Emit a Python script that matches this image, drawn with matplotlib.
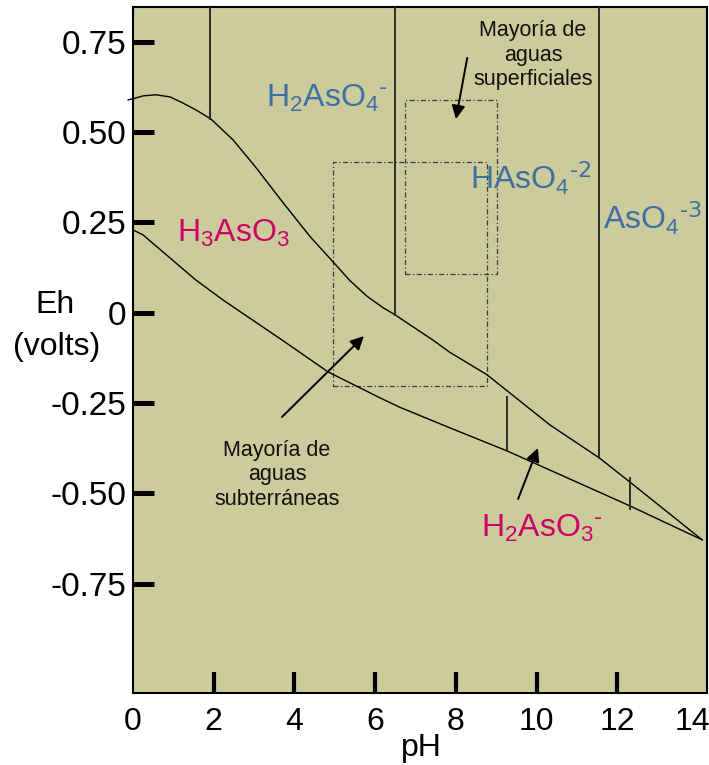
import matplotlib
matplotlib.use("Agg")
import matplotlib.pyplot as plt
from matplotlib.patches import Rectangle
from matplotlib.transforms import ScaledTranslation

plt.rcParams['font.family'] = ['Liberation Sans', 'DejaVu Sans']
plt.rcParams['mathtext.default'] = 'regular'

# ---- data ----
upper_ph = [-0.12, 0.0, 0.25, 0.57, 0.92, 1.24, 1.56, 1.93, 2.48, 3.05, 3.72, 4.39, 4.96, 5.38, 5.80, 6.19, 6.49, 7.43, 7.85, 8.77, 10.33, 11.55, 12.31, 14.10]
upper_eh = [0.589, 0.592, 0.600, 0.603, 0.597, 0.580, 0.561, 0.536, 0.478, 0.401, 0.304, 0.210, 0.140, 0.088, 0.045, 0.014, -0.006, -0.076, -0.110, -0.172, -0.311, -0.402, -0.469, -0.629]

lower_ph = [0.0, 0.25, 1.56, 2.23, 3.72, 4.83, 6.12, 6.61, 7.85, 9.27, 12.31, 14.10]
lower_eh = [0.229, 0.215, 0.090, 0.035, -0.078, -0.164, -0.236, -0.262, -0.319, -0.383, -0.535, -0.629]

# vertical boundaries: x, bottom, top (None = top of frame)
vert_x = [1.91, 6.49, 11.55, 9.27, 12.31]
vert_bottom = [0.536, -0.006, -0.402, -0.383, -0.545]
vert_top = [None, None, None, -0.233, -0.458]

# dash-dot boxes: x0, x1, y0, y1
box_x0 = [4.95, 6.74]
box_x1 = [8.77, 9.02]
box_y0 = [-0.203, 0.107]
box_y1 = [0.417, 0.589]

species_labels = [r'$H_2AsO_4{}^{\text{-}}$', r'$HAsO_4{}^{\text{-2}}$', r'$AsO_4{}^{\text{-3}}$',
                  r'$H_3AsO_3$', r'$H_2AsO_3{}^{\text{-}}$']
species_x = [3.30, 8.35, 11.65, 1.09, 8.62]
species_y = [0.569, 0.340, 0.229, 0.196, -0.621]
species_color = ['#3d6ea6', '#3d6ea6', '#3d6ea6', '#cc0066', '#cc0066']

note_texts = ['Mayoría de\naguas\nsuperficiales', 'Mayoría de\naguas\nsubterráneas']
note_xy = [(9.91, 0.713), (3.57, -0.449)]
arrow_tail = [(8.28, 0.705), (3.69, -0.289), (9.54, -0.516)]
arrow_head = [(8.00, 0.536), (5.72, -0.065), (10.03, -0.375)]

xticks = [0, 2, 4, 6, 8, 10, 12, 14]
yticks = [0.75, 0.50, 0.25, 0.0, -0.25, -0.50, -0.75]
ytick_labels = ['0.75', '0.50', '0.25', '0', '-0.25', '-0.50', '-0.75']

XMAX = 14.22
YMIN, YMAX = -1.053, 0.846

# ---- figure ----
W, H = 709, 765
fig = plt.figure(figsize=(W / 100, H / 100), dpi=100)
ax = fig.add_axes([133 / W, 72 / H, (707 - 133) / W, (693 - 7) / H])
ax.set_facecolor('#cbcb9b')
ax.set_xlim(0, XMAX)
ax.set_ylim(YMIN, YMAX)

ax.plot(upper_ph, upper_eh, color='black', lw=1.0, clip_on=False, zorder=3)
ax.plot(lower_ph, lower_eh, color='black', lw=1.0, zorder=3)

for x, b, t in zip(vert_x, vert_bottom, vert_top):
    ax.plot([x, x], [b, YMAX if t is None else t], color='#2b2b2b', lw=1.4, zorder=3)

for x0, x1, y0, y1 in zip(box_x0, box_x1, box_y0, box_y1):
    ax.add_patch(Rectangle((x0, y0), x1 - x0, y1 - y0, fill=False,
                           edgecolor='#3a3a3a', lw=0.9, linestyle=(0, (4, 2, 1, 2)), zorder=2))

for lab, x, y, c in zip(species_labels, species_x, species_y, species_color):
    ax.text(x, y, lab, color=c, fontsize=23, ha='left', va='baseline', zorder=4)

for t, (x, y) in zip(note_texts, note_xy):
    ax.text(x, y, t, fontsize=15.5, ha='center', va='center', multialignment='center',
            color='#111111', zorder=4)

for (tx, ty), (hx, hy) in zip(arrow_tail, arrow_head):
    ax.annotate('', xy=(hx, hy), xytext=(tx, ty),
                arrowprops=dict(arrowstyle='-|>', color='black', lw=1.4,
                                mutation_scale=20, shrinkA=0, shrinkB=0), zorder=4)

ax.set_xticks(xticks)
ax.set_xticklabels([str(v) for v in xticks])
ax.set_yticks(yticks)
ax.set_yticklabels(ytick_labels)
ax.tick_params(axis='x', direction='in', length=15, width=3, labelsize=23, pad=10, color='black')
ax.tick_params(axis='y', direction='in', length=15, width=3.6, labelsize=24, pad=5, color='black')
xt = ax.xaxis.get_major_ticks()
xt[0].tick1line.set_visible(False)
xt[-1].tick1line.set_visible(False)
last = ax.get_xticklabels()[-1]
last.set_transform(last.get_transform() + ScaledTranslation(-6 / 100, 0, fig.dpi_scale_trans))

for s in ax.spines.values():
    s.set_linewidth(1.5)
    s.set_color('black')

fig.text(55 / W, 1 - 313 / H, 'Eh', fontsize=23, ha='center', va='baseline')
fig.text(57 / W, 1 - 355 / H, '(volts)', fontsize=23, ha='center', va='baseline')
fig.text(421 / W, 1 - 756 / H, 'pH', fontsize=23, ha='center', va='baseline')

fig.savefig('out.png', dpi=100)
